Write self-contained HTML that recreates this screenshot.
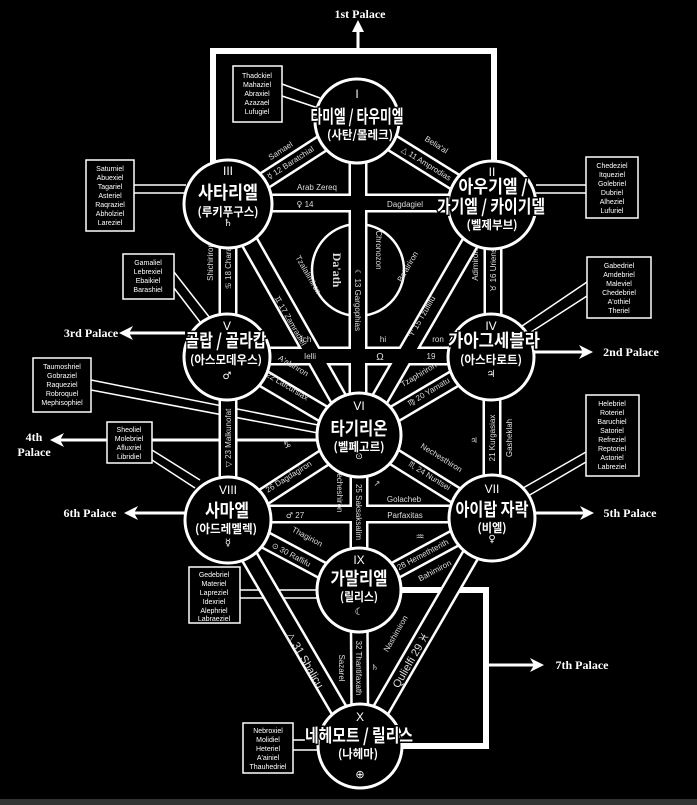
<!DOCTYPE html>
<html><head><meta charset="utf-8"><style>
html,body{margin:0;padding:0;background:#000;}
svg{display:block}
.k{font-family:"Noto Sans CJK KR","Liberation Sans",sans-serif;font-weight:bold;fill:#fff;stroke:#000;stroke-width:3;paint-order:stroke;text-anchor:middle}
.s{font-family:"Liberation Sans","DejaVu Sans",sans-serif;fill:#ddd;font-size:8px;text-anchor:middle}
.b{font-family:"Liberation Sans",sans-serif;fill:#fff;font-size:7px;text-anchor:middle}
.n{font-family:"Liberation Sans","DejaVu Sans",sans-serif;fill:#fff;font-size:12px;text-anchor:middle}
.p{font-family:"Liberation Serif",serif;font-weight:bold;fill:#fff;font-size:12px;text-anchor:middle}
.y{font-family:"DejaVu Sans",sans-serif}
</style></head><body>
<svg width="697" height="805" viewBox="0 0 697 805" xmlns="http://www.w3.org/2000/svg">
<rect width="697" height="805" fill="#000"/>
<rect x="0" y="799" width="697" height="6" fill="#333"/>

<circle cx="358" cy="270" r="46" fill="#000" stroke="#fff" stroke-width="2.5"/>

<g stroke="#fff" fill="none" stroke-width="6">
<polyline points="213,165 213,51 494,51 494,165"/>
<polyline points="398,590 486,590 486,746 400,746"/>
</g>
<g stroke="#fff" stroke-width="3" fill="none">
<line x1="358" y1="51" x2="358" y2="28"/>
<line x1="185" y1="333" x2="125" y2="333"/>
<line x1="534" y1="352" x2="585" y2="352"/>
<line x1="152" y1="440" x2="320" y2="440"/>
<line x1="107" y1="440" x2="58" y2="440"/>
<line x1="185" y1="513" x2="130" y2="513"/>
<line x1="535" y1="513" x2="588" y2="513"/>
<line x1="486" y1="665" x2="538" y2="665"/>
</g>
<g fill="#fff">
<polygon points="358,20 352,32 364,32"/>
<polygon points="119,333 133,326 129,333 133,340"/>
<polygon points="593,352 579,345 583,352 579,359"/>
<polygon points="50,440 64,433 60,440 64,447"/>
<polygon points="124,513 138,506 134,513 138,520"/>
<polygon points="594,513 580,506 584,513 580,520"/>
<polygon points="544,665 530,658 534,665 530,672"/>
</g>
<text class="p" x="360" y="18">1st Palace</text>
<text class="p" x="91" y="337">3rd Palace</text>
<text class="p" x="631" y="356">2nd Palace</text>
<text class="p" x="34" y="441">4th</text>
<text class="p" x="34" y="456">Palace</text>
<text class="p" x="90" y="517">6th Palace</text>
<text class="p" x="630" y="517">5th Palace</text>
<text class="p" x="582" y="669">7th Palace</text>

<g stroke="#fff" stroke-width="1.5" fill="none">
<polyline points="282,84 320,98"/><polyline points="282,96 318,108"/>
<line x1="134" y1="185" x2="186" y2="185"/><line x1="134" y1="193" x2="186" y2="193"/>
<line x1="174" y1="272" x2="210" y2="318"/><line x1="174" y1="288" x2="200" y2="322"/>
<line x1="91" y1="380" x2="318" y2="425"/><line x1="91" y1="390" x2="318" y2="433"/>
<line x1="152" y1="450" x2="200" y2="480"/><line x1="152" y1="460" x2="195" y2="488"/>
<line x1="240" y1="590" x2="320" y2="590"/><line x1="240" y1="598" x2="320" y2="598"/>
<line x1="536" y1="185" x2="586" y2="185"/><line x1="536" y1="193" x2="586" y2="193"/>
<line x1="522" y1="326" x2="587" y2="282"/><line x1="528" y1="334" x2="587" y2="296"/>
<line x1="523" y1="488" x2="586" y2="452"/><line x1="528" y1="496" x2="586" y2="462"/>
<line x1="293" y1="740" x2="320" y2="740"/><line x1="293" y1="750" x2="320" y2="750"/>
</g>
<g stroke="#fff" stroke-width="1.5" fill="#000">
<rect x="233" y="66" width="49" height="56"/>
<rect x="86" y="160" width="48" height="71"/>
<rect x="123" y="254" width="51" height="45"/>
<rect x="33" y="358" width="58" height="54"/>
<rect x="107" y="422" width="45" height="41"/>
<rect x="189" y="567" width="51" height="56"/>
<rect x="586" y="157" width="52" height="61"/>
<rect x="587" y="257" width="64" height="61"/>
<rect x="586" y="395" width="53" height="81"/>
<rect x="243" y="723" width="50" height="50"/>
</g>
<g class="b">
<text x="257" y="78">Thadckiel</text><text x="257" y="87">Mahaziel</text><text x="257" y="96">Abraxiel</text><text x="257" y="105">Azazael</text><text x="257" y="114">Lufugiel</text>
<text x="110" y="171">Saturniel</text><text x="110" y="180">Abuexiel</text><text x="110" y="189">Tagariel</text><text x="110" y="198">Asteriel</text><text x="110" y="207">Raqraziel</text><text x="110" y="216">Abholziel</text><text x="110" y="225">Lareziel</text>
<text x="148" y="265">Gamaliel</text><text x="148" y="274">Lebrexiel</text><text x="148" y="283">Ebaikiel</text><text x="148" y="292">Barashiel</text>
<text x="62" y="369">Taumoshriel</text><text x="62" y="378">Gobraziel</text><text x="62" y="387">Raqueziel</text><text x="62" y="396">Robroquel</text><text x="62" y="405">Mephisophiel</text>
<text x="129" y="432">Sheoliel</text><text x="129" y="441">Molebriel</text><text x="129" y="450">Afluxriel</text><text x="129" y="459">Libridiel</text>
<text x="214" y="577">Gedebriel</text><text x="214" y="586">Materiel</text><text x="214" y="595">Lapreziel</text><text x="214" y="604">Idexriel</text><text x="214" y="613">Alephriel</text><text x="214" y="621">Labraeziel</text>
<text x="612" y="168">Chedeziel</text><text x="612" y="177">Itqueziel</text><text x="612" y="186">Golebriel</text><text x="612" y="195">Dubriel</text><text x="612" y="204">Alheziel</text><text x="612" y="213">Lufuriel</text>
<text x="619" y="268">Gabedriel</text><text x="619" y="277">Amdebriel</text><text x="619" y="286">Maleviel</text><text x="619" y="295">Chedebriel</text><text x="619" y="304">A'othiel</text><text x="619" y="313">Theriel</text>
<text x="612" y="406">Helebriel</text><text x="612" y="415">Roteriel</text><text x="612" y="424">Baruchiel</text><text x="612" y="433">Satoriel</text><text x="612" y="442">Refreziel</text><text x="612" y="451">Reptoriel</text><text x="612" y="460">Astoriel</text><text x="612" y="469">Labreziel</text>
<text x="268" y="733">Nebroxiel</text><text x="268" y="742">Molidiel</text><text x="268" y="751">Heteriel</text><text x="268" y="760">A'ainiel</text><text x="268" y="769">Thauhedriel</text>
</g>

<g stroke="#fff" stroke-width="19" fill="none">
<line x1="357" y1="121" x2="492" y2="205"/><line x1="357" y1="121" x2="228" y2="204"/>
<line x1="358" y1="121" x2="358" y2="435"/>
<line x1="228" y1="203" x2="492" y2="203"/>
<line x1="493" y1="205" x2="493" y2="357"/><line x1="492" y1="205" x2="359" y2="435"/>
<line x1="228" y1="204" x2="228" y2="357"/><line x1="228" y1="204" x2="359" y2="435"/>
<line x1="227" y1="356" x2="491" y2="356"/>
<line x1="491" y1="357" x2="359" y2="435"/><line x1="492" y1="357" x2="492" y2="518"/>
<line x1="227" y1="357" x2="359" y2="435"/><line x1="228" y1="357" x2="228" y2="520"/>
<line x1="359" y1="435" x2="492" y2="518"/><line x1="359" y1="435" x2="228" y2="520"/>
<line x1="359" y1="435" x2="359" y2="590"/>
<line x1="228" y1="514" x2="492" y2="514"/>
<line x1="492" y1="518" x2="359" y2="590"/><line x1="228" y1="520" x2="359" y2="590"/>
<line x1="228" y1="520" x2="360" y2="746"/><line x1="492" y1="518" x2="360" y2="746"/>
<line x1="359" y1="590" x2="360" y2="746"/>
</g>
<g stroke="#000" stroke-width="14" fill="none">
<line x1="357" y1="121" x2="492" y2="205"/><line x1="357" y1="121" x2="228" y2="204"/>
<line x1="358" y1="121" x2="358" y2="435"/>
<line x1="228" y1="203" x2="492" y2="203"/>
<line x1="493" y1="205" x2="493" y2="357"/><line x1="492" y1="205" x2="359" y2="435"/>
<line x1="228" y1="204" x2="228" y2="357"/><line x1="228" y1="204" x2="359" y2="435"/>
<line x1="227" y1="356" x2="491" y2="356"/>
<line x1="491" y1="357" x2="359" y2="435"/><line x1="492" y1="357" x2="492" y2="518"/>
<line x1="227" y1="357" x2="359" y2="435"/><line x1="228" y1="357" x2="228" y2="520"/>
<line x1="359" y1="435" x2="492" y2="518"/><line x1="359" y1="435" x2="228" y2="520"/>
<line x1="359" y1="435" x2="359" y2="590"/>
<line x1="228" y1="514" x2="492" y2="514"/>
<line x1="492" y1="518" x2="359" y2="590"/><line x1="228" y1="520" x2="359" y2="590"/>
<line x1="228" y1="520" x2="360" y2="746"/><line x1="492" y1="518" x2="360" y2="746"/>
<line x1="359" y1="590" x2="360" y2="746"/>
</g>

<g class="s">
<text transform="translate(292,165) rotate(-33)"><tspan class="y">☿</tspan> 12 Baratchial</text>
<text transform="translate(282,153) rotate(-33)">Samael</text>
<text transform="translate(425,166) rotate(32)"><tspan class="y">△</tspan> 11 Amprodias</text>
<text transform="translate(435,147) rotate(32)">Belia'al</text>
<text x="317" y="190">Arab Zereq</text>
<text x="305" y="207"><tspan class="y">♀</tspan>    14</text>
<text x="405" y="207">Dagdagiel</text>
<text transform="translate(355,300) rotate(90)"><tspan class="y">☾</tspan> 13 Gargophias</text>
<text transform="translate(376,250) rotate(90)">Chronozon</text>
<text transform="translate(333,270) rotate(90)" style="font-family:'Liberation Serif',serif;font-size:12px;font-weight:bold">Da'ath</text>
<text transform="translate(231,262) rotate(-90)"><tspan class="y">♋</tspan> 18 Characith</text>
<text transform="translate(213,262) rotate(-90)">Shichiriron</text>
<text transform="translate(496,270) rotate(-90)"><tspan class="y">♉</tspan> 16 Uriens</text>
<text transform="translate(478,265) rotate(-90)">Adimiron</text>
<text transform="translate(288,322) rotate(60)"><tspan class="y">♊</tspan> 17 Zamradiel</text>
<text transform="translate(306,276) rotate(60)">Tzalalimiron</text>
<text transform="translate(424,318) rotate(-60)"><tspan class="y">♈</tspan> 15 Tzuflifu</text>
<text transform="translate(410,268) rotate(-60)">Ba'airiron</text>
<text x="252" y="342">Sha</text><text x="306" y="342">Ich</text><text x="383" y="342">hi</text><text x="438" y="342">ron</text>
<text x="256" y="359">Temph</text><text x="310" y="359">Ielli</text><text x="380" y="360" style="font-size:10px">Ω</text><text x="431" y="359">19</text>
<text transform="translate(282,386) rotate(31)"><tspan class="y">♎</tspan> 22 Lafcursiax</text>
<text transform="translate(292,368) rotate(31)">A'abiriron</text>
<text transform="translate(430,394) rotate(-31)"><tspan class="y">♍</tspan> 20 Yamatu</text>
<text transform="translate(420,377) rotate(-31)">Tzaphiriron</text>
<text transform="translate(231,438) rotate(-90)"><tspan class="y">▽</tspan> 23 Malkunofat</text>
<text transform="translate(495,438) rotate(-90)">21 Kurgasiax</text>
<text transform="translate(512,438) rotate(-90)">Gasheklah</text>
<text x="474" y="443" class="y">♃</text>
<text transform="translate(428,478) rotate(32)"><tspan class="y">♏</tspan> 24 Nuntsei</text>
<text transform="translate(440,460) rotate(32)">Nechesthiron</text>
<text transform="translate(290,479) rotate(-32)">26 Dagdagiron</text>
<text x="287" y="448" style="font-size:10px" class="y">♑</text>
<text transform="translate(356,512) rotate(90)">25 Saksaksalim</text>
<text transform="translate(337,490) rotate(90)">Necheshiron</text>
<text x="404" y="502">Golacheb</text>
<text x="377" y="486" class="y">↗</text>
<text x="295" y="518"><tspan class="y">♂</tspan>      27</text>
<text x="405" y="518">Parfaxitas</text>
<text transform="translate(290,557) rotate(28)"><tspan class="y">⊙</tspan> 30 Raflifu</text>
<text transform="translate(306,539) rotate(28)">Thagirion</text>
<text transform="translate(424,557) rotate(-28)">28 Hemethterith</text>
<text transform="translate(436,573) rotate(-28)">Bahimiron</text>
<text x="420" y="540" style="font-size:10px" class="y">♒</text>
<text transform="translate(302,662) rotate(60)" style="font-size:11px"><tspan class="y">△</tspan> 31 Shalicu</text>
<text transform="translate(414,662) rotate(-60)" style="font-size:11px">Qulielfi 29 <tspan class="y">♓</tspan></text>
<text transform="translate(398,635) rotate(-60)">Nashimiron</text>
<text transform="translate(356,668) rotate(90)">32 Thantifaxath</text>
<text transform="translate(339,668) rotate(90)">Sazarel</text>
<text x="375" y="670" class="y">♄</text>
</g>

<g fill="#000" stroke="#fff" stroke-width="3">
<circle cx="357" cy="121" r="42"/>
<circle cx="492" cy="205" r="44"/>
<circle cx="228" cy="204" r="44"/>
<circle cx="491" cy="357" r="43"/>
<circle cx="227" cy="357" r="43"/>
<circle cx="359" cy="435" r="42"/>
<circle cx="492" cy="518" r="43"/>
<circle cx="228" cy="520" r="43"/>
<circle cx="359" cy="590" r="42"/>
<circle cx="360" cy="746" r="42"/>
</g>
<g class="n">
<text x="357" y="98">I</text><text x="492" y="176">II</text><text x="228" y="175">III</text>
<text x="491" y="330">IV</text><text x="227" y="330">V</text><text x="359" y="410">VI</text>
<text x="492" y="493">VII</text><text x="228" y="494">VIII</text><text x="359" y="564">IX</text><text x="360" y="721">X</text>
<text x="228" y="226" style="font-size:10px" class="y">♄</text>
<text x="227" y="379" style="font-size:10px" class="y">♂</text>
<text x="491" y="377" style="font-size:10px" class="y">♃</text>
<text x="359" y="459" style="font-size:9px" class="y">⊙</text>
<text x="492" y="542" style="font-size:10px" class="y">♀</text>
<text x="228" y="546" style="font-size:10px" class="y">☿</text>
<text x="359" y="615" style="font-size:10px" class="y">☾</text>
<text x="360" y="778" style="font-size:11px" class="y">⊕</text>
</g>
<g class="k">
<text x="357" y="123" style="font-size:18px" textLength="93" lengthAdjust="spacingAndGlyphs">타미엘 / 타우미엘</text>
<text x="360" y="139" style="font-size:12px" textLength="66" lengthAdjust="spacingAndGlyphs">(사탄/몰레크)</text>
<text x="228" y="199" style="font-size:18px" textLength="60" lengthAdjust="spacingAndGlyphs">사타리엘</text>
<text x="228" y="216" style="font-size:12px" textLength="61" lengthAdjust="spacingAndGlyphs">(루키푸구스)</text>
<text x="493" y="193" style="font-size:18px" textLength="69" lengthAdjust="spacingAndGlyphs">아우기엘 /</text>
<text x="491" y="213" style="font-size:18px" textLength="108" lengthAdjust="spacingAndGlyphs">가기엘 / 카이기델</text>
<text x="492" y="229" style="font-size:12px" textLength="51" lengthAdjust="spacingAndGlyphs">(벨제부브)</text>
<text x="226" y="347" style="font-size:18px" textLength="81" lengthAdjust="spacingAndGlyphs">골랍 / 골라캅</text>
<text x="226" y="364" style="font-size:12px" textLength="72" lengthAdjust="spacingAndGlyphs">(아스모데우스)</text>
<text x="494" y="347" style="font-size:18px" textLength="92" lengthAdjust="spacingAndGlyphs">가아그세블라</text>
<text x="491" y="364" style="font-size:12px" textLength="62" lengthAdjust="spacingAndGlyphs">(아스타로트)</text>
<text x="359" y="435" style="font-size:18px" textLength="57" lengthAdjust="spacingAndGlyphs">타기리온</text>
<text x="359" y="451" style="font-size:12px" textLength="51" lengthAdjust="spacingAndGlyphs">(벨페고르)</text>
<text x="492" y="516" style="font-size:18px" textLength="73" lengthAdjust="spacingAndGlyphs">아이랍 자락</text>
<text x="492" y="532" style="font-size:12px" textLength="29" lengthAdjust="spacingAndGlyphs">(비엘)</text>
<text x="227" y="517" style="font-size:18px" textLength="44" lengthAdjust="spacingAndGlyphs">사마엘</text>
<text x="226" y="533" style="font-size:12px" textLength="62" lengthAdjust="spacingAndGlyphs">(아드레멜렉)</text>
<text x="359" y="585" style="font-size:18px" textLength="57" lengthAdjust="spacingAndGlyphs">가말리엘</text>
<text x="359" y="601" style="font-size:12px" textLength="38" lengthAdjust="spacingAndGlyphs">(릴리스)</text>
<text x="359" y="742" style="font-size:18px" textLength="108" lengthAdjust="spacingAndGlyphs">네헤모트 / 릴리스</text>
<text x="358" y="758" style="font-size:12px" textLength="40" lengthAdjust="spacingAndGlyphs">(나헤마)</text>
</g>
</svg>
</body></html>
